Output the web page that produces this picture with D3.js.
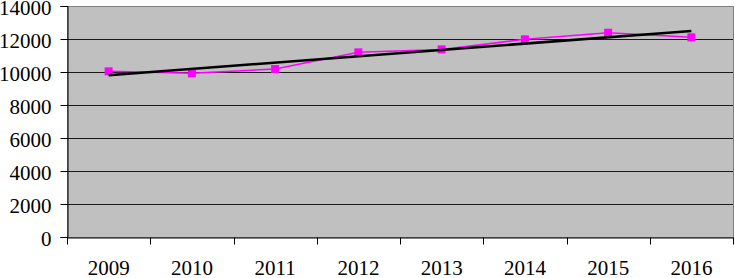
<!DOCTYPE html>
<meta charset="utf-8">
<html>
<style>
body { margin: 0; background: #fff; }
.tick text { font-family: "Liberation Serif", "Times New Roman", serif; font-size: 21px; fill: #000; }
</style>
<svg width="735" height="278"></svg>
<script src="https://d3js.org/d3.v7.min.js"></script>
<script>
var years = ["2009", "2010", "2011", "2012", "2013", "2014", "2015", "2016"];
var values = [10040, 9920, 10180, 11190, 11370, 11980, 12380, 12100];
var yTicks = [0, 2000, 4000, 6000, 8000, 10000, 12000, 14000];

var svg = d3.select("svg"),
    plotL = 67, plotR = 733, plotT = 6, plotB = 237;

var x = d3.scaleBand().domain(years).range([plotL, plotR]);
var y = d3.scaleLinear().domain([0, 14000]).range([plotB, plotT]);
var cx = d => x(d) + x.bandwidth() / 2;

// plot area
svg.append("rect")
    .attr("x", plotL + 0.5).attr("y", plotT + 0.5)
    .attr("width", plotR - plotL).attr("height", plotB - plotT)
    .attr("fill", "#c0c0c0")
    .attr("stroke", "#808080");

// gridlines
svg.append("g")
  .selectAll("line")
  .data(yTicks.slice(1, -1))
  .join("line")
    .attr("x1", plotL).attr("x2", plotR)
    .attr("y1", d => Math.round(y(d)) + 0.5).attr("y2", d => Math.round(y(d)) + 0.5)
    .attr("stroke", "#1a1a1a");

// y axis
svg.append("g")
    .attr("transform", `translate(${plotL + 0.5},0)`)
    .call(d3.axisLeft(y).tickValues(yTicks).tickSize(7).tickPadding(9).tickFormat(d3.format("d")))
    .call(g => g.selectAll("path, line").attr("stroke", "#000"))
    .call(g => g.selectAll("text").attr("dy", "0.42em"));

// x axis, ticks on band boundaries
var xa = svg.append("g")
    .attr("transform", `translate(0,${plotB + 0.5})`)
    .call(d3.axisBottom(x).tickSize(0).tickPadding(23))
    .call(g => g.select(".domain").attr("stroke", "#000"));
xa.selectAll(".tick text").attr("dy", "0.71em");
xa.selectAll(".bound")
  .data(years.map(d => x(d)).concat([plotR]))
  .join("line")
    .attr("class", "bound")
    .attr("x1", d => Math.round(d) + 0.5).attr("x2", d => Math.round(d) + 0.5)
    .attr("y1", 0).attr("y2", 7)
    .attr("stroke", "#000");

// data line
var line = d3.line().x(d => cx(d[0])).y(d => y(d[1]));
var pts = years.map((d, i) => [d, values[i]]);
svg.append("path")
    .attr("d", line(pts))
    .attr("fill", "none")
    .attr("stroke", "#ff00ff")
    .attr("stroke-width", 1.5);

svg.append("g")
  .selectAll("rect")
  .data(pts)
  .join("rect")
    .attr("x", d => cx(d[0]) - 4).attr("y", d => y(d[1]) - 4)
    .attr("width", 8).attr("height", 8)
    .attr("fill", "#ff00ff");

// linear trend
var n = values.length,
    mx = d3.mean(values, (v, i) => i),
    my = d3.mean(values),
    slope = d3.sum(values, (v, i) => (i - mx) * (v - my)) / d3.sum(values, (v, i) => (i - mx) * (i - mx)),
    icpt = my - slope * mx;
svg.append("path")
    .attr("d", line([[years[0], icpt], [years[n - 1], icpt + slope * (n - 1)]]))
    .attr("stroke", "#000")
    .attr("stroke-width", 2.5);
</script>
</html>
